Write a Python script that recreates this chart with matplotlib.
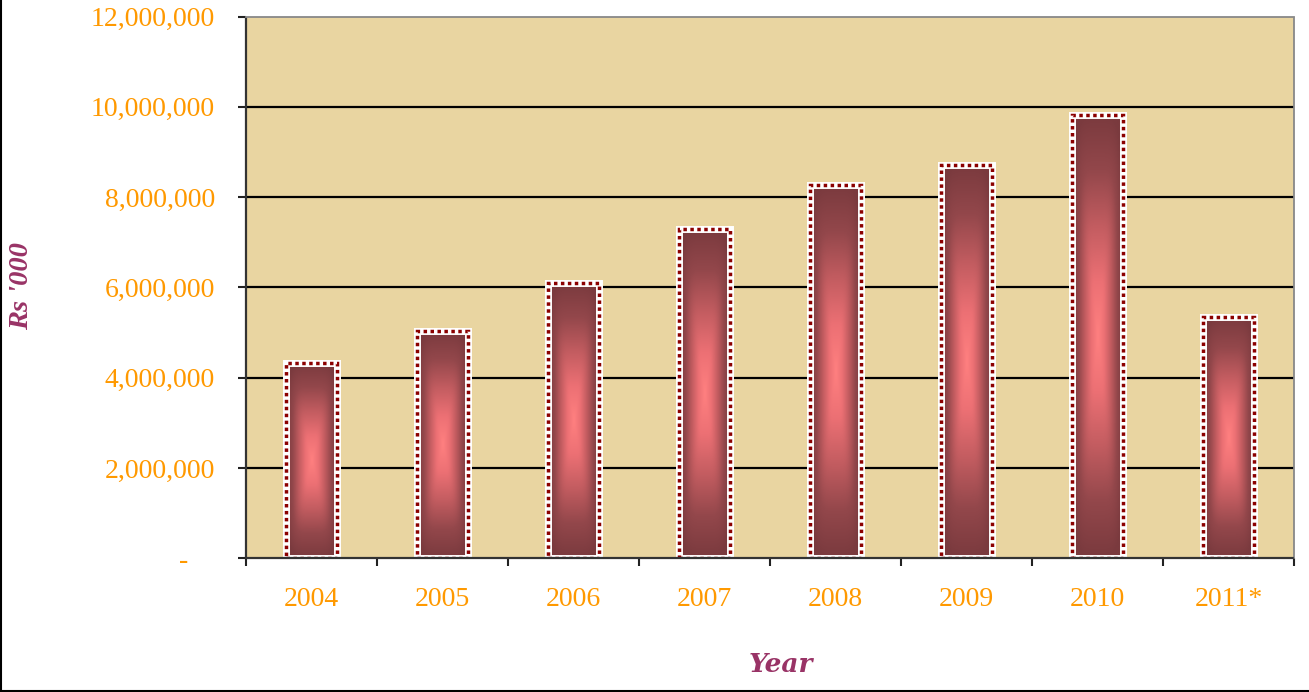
import matplotlib
matplotlib.use('Agg')
import matplotlib.pyplot as plt
import numpy as np
from matplotlib.ticker import FuncFormatter, FixedLocator
from matplotlib.colors import LinearSegmentedColormap
from matplotlib.lines import Line2D
from matplotlib.transforms import ScaledTranslation

years = ['2004', '2005', '2006', '2007', '2008', '2009', '2010', '2011*']
values = [4330000, 5030000, 6100000, 7300000, 8270000, 8710000, 9820000, 5350000]
yticks = [0, 2000000, 4000000, 6000000, 8000000, 10000000, 12000000]
ylabel = "Rs '000"
xlabel = "Year"

plt.rcParams['font.family'] = ['Liberation Serif', 'DejaVu Serif']

W, H = 1309, 692
fig = plt.figure(figsize=(W / 100, H / 100), dpi=100)
ax = fig.add_axes([246 / W, 1 - 558.3 / H, (1294 - 246) / W, (558.3 - 16.5) / H])
ax.set_facecolor('#E9D5A1')

x = np.arange(len(years))
bw = 0.39
bars = ax.bar(x, values, width=bw, color='#7A3A3E', linewidth=0, zorder=2)

cmap = LinearSegmentedColormap.from_list(
    'g', ['#FF8080', '#EC7074', '#C25C60', '#93474B', '#7A3A3E'])
uu = np.linspace(-1, 1, 80)
vv = np.linspace(-1, 1, 500)
U, V = np.meshgrid(uu, vv)
p = 5.0
D = (np.abs(U) ** p + np.abs(V) ** p) ** (1.0 / p)
D = np.clip(D, 0, 1)
for b in bars:
    x0, y0 = b.get_x(), b.get_y()
    w, h = b.get_width(), b.get_height()
    im = ax.imshow(D, cmap=cmap, vmin=0, vmax=1,
                   extent=[x0, x0 + w, y0, y0 + h], aspect='auto',
                   origin='lower', interpolation='bilinear', zorder=3)
    im.set_clip_path(b)

ax.bar(x, values, width=bw, fill=False, edgecolor='white', linewidth=5.0, zorder=4)
ax.bar(x, values, width=bw, fill=False, edgecolor='#8B0000', linewidth=2.5,
       linestyle=(0, (1, 1)), zorder=5)

ax.set_xlim(-0.5, len(years) - 0.5)
ax.set_ylim(yticks[0], yticks[-1])
ax.set_aspect('auto')

# gridlines
for t in yticks[1:-1]:
    ax.axhline(t, color='black', linewidth=1.6, zorder=1)

# ticks
ax.yaxis.set_major_locator(FixedLocator(yticks))
ax.yaxis.set_major_formatter(FuncFormatter(lambda v, p: '-' if v == 0 else f'{v:,.0f}'))
ax.tick_params(axis='y', which='major', direction='out', length=6, width=1.5,
               color='#222222', labelsize=20, labelcolor='#FF9900', pad=16.5)

ax.xaxis.set_major_locator(FixedLocator(np.arange(len(years) + 1) - 0.5))
ax.xaxis.set_minor_locator(FixedLocator(x))
ax.xaxis.set_major_formatter(FuncFormatter(lambda v, p: ''))
ax.set_xticks(x, minor=True)
ax.set_xticklabels(years, minor=True)
ax.tick_params(axis='x', which='major', direction='out', length=6, width=1.5, color='#222222')
ax.tick_params(axis='x', which='minor', length=0, labelsize=20, labelcolor='#FF9900', pad=21)

# shift the '-' zero label left
for lab in ax.get_yticklabels():
    if lab.get_text() == '-':
        lab.set_transform(lab.get_transform() + ScaledTranslation(-0.27, 0, fig.dpi_scale_trans))

# spines
for s in ['left', 'bottom']:
    ax.spines[s].set_color('#333333')
    ax.spines[s].set_linewidth(1.6)
    ax.spines[s].set_linestyle((0, (3, 1)))
for s in ['top', 'right']:
    ax.spines[s].set_color('#888888')
    ax.spines[s].set_linewidth(1.3)
    ax.spines[s].set_linestyle((0, (1, 1)))
for sp in ax.spines.values():
    sp.set_zorder(6)

# axis titles
fig.text(22 / W, 1 - 286 / H, ylabel, rotation=90, ha='center', va='center',
         fontsize=20.5, fontweight='bold', fontstyle='italic', color='#993366',
         family=['Liberation Serif'])
fig.text(781 / W, 1 - 665 / H, xlabel, ha='center', va='center',
         fontsize=19, fontweight='bold', fontstyle='italic', color='#993366',
         family=['DejaVu Serif'])

# figure border (left and bottom visible)
fig.add_artist(Line2D([1 / W, 1 / W], [1.0, 1.5 / H], transform=fig.transFigure,
                      color='black', linewidth=1.5))
fig.add_artist(Line2D([1 / W, 1.0], [1.5 / H, 1.5 / H], transform=fig.transFigure,
                      color='black', linewidth=1.5))

fig.savefig('out.png', dpi=100)
